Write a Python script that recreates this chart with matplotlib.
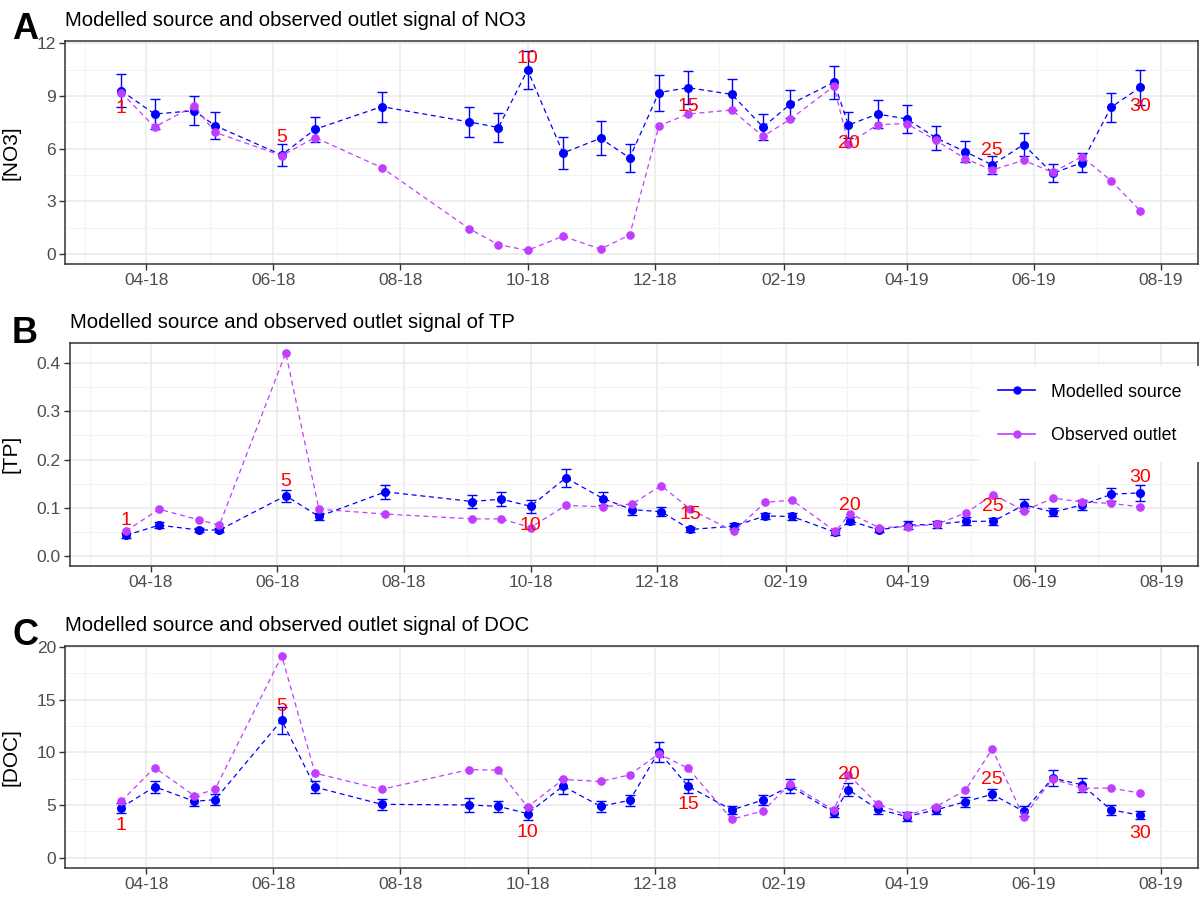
import matplotlib
matplotlib.use("Agg")
import matplotlib.pyplot as plt
import matplotlib.dates as mdates
from matplotlib.lines import Line2D
import pandas as pd
import numpy as np

plt.rcParams['font.family'] = ['Liberation Sans', 'DejaVu Sans']

# sampling campaigns 1..30
sample_dates = pd.to_datetime([
    "2018-03-20", "2018-04-05", "2018-04-24", "2018-05-04", "2018-06-05",
    "2018-06-21", "2018-07-23", "2018-09-03", "2018-09-17", "2018-10-01",
    "2018-10-18", "2018-11-05", "2018-11-19", "2018-12-03", "2018-12-17",
    "2019-01-07", "2019-01-22", "2019-02-04", "2019-02-25", "2019-03-04",
    "2019-03-18", "2019-04-01", "2019-04-15", "2019-04-29", "2019-05-12",
    "2019-05-27", "2019-06-10", "2019-06-24", "2019-07-08", "2019-07-22"])
sample_no = list(range(1, 31))
labelled = [1, 5, 10, 15, 20, 25, 30]

no3_model = [9.30, 7.97, 8.16, 7.31, 5.64, 7.10, 8.39, 7.52, 7.20, 10.48,
             5.75, 6.59, 5.47, 9.19, 9.47, 9.09, 7.23, 8.52, 9.78, 7.35,
             7.97, 7.69, 6.61, 5.83, 5.07, 6.23, 4.59, 5.20, 8.35, 9.49]
no3_err = [0.93, 0.83, 0.84, 0.76, 0.62, 0.71, 0.85, 0.85, 0.82, 1.07,
           0.89, 0.98, 0.79, 1.02, 0.94, 0.90, 0.72, 0.79, 0.94, 0.76,
           0.80, 0.78, 0.67, 0.62, 0.53, 0.66, 0.51, 0.54, 0.81, 0.98]
no3_obs = [9.19, 7.23, 8.43, 6.93, 5.60, 6.63, 4.92, 1.44, 0.53, 0.21,
           1.01, 0.28, 1.08, 7.29, 7.97, 8.20, 6.70, 7.67, 9.55, 6.27,
           7.37, 7.42, 6.47, 5.43, 4.78, 5.34, 4.65, 5.54, 4.18, 2.47]

tp_model = [0.043, 0.064, 0.054, 0.054, 0.125, 0.082, 0.133, 0.113, 0.118, 0.103,
            0.162, 0.119, 0.096, 0.092, 0.055, 0.062, 0.083, 0.082, 0.049, 0.073,
            0.054, 0.064, 0.066, 0.072, 0.072, 0.106, 0.091, 0.106, 0.128, 0.131]
tp_err = [0.005, 0.006, 0.005, 0.005, 0.012, 0.007, 0.015, 0.013, 0.014, 0.014,
          0.019, 0.014, 0.011, 0.009, 0.005, 0.007, 0.007, 0.007, 0.005, 0.007,
          0.005, 0.009, 0.007, 0.008, 0.007, 0.013, 0.008, 0.010, 0.014, 0.016]
tp_obs = [0.052, 0.097, 0.075, 0.064, 0.421, 0.097, 0.087, 0.077, 0.077, 0.059,
          0.105, 0.102, 0.108, 0.146, 0.097, 0.051, 0.111, 0.116, 0.051, 0.088,
          0.059, 0.061, 0.066, 0.090, 0.127, 0.094, 0.120, 0.112, 0.109, 0.102]

doc_model = [4.75, 6.73, 5.35, 5.50, 13.05, 6.70, 5.06, 5.00, 4.87, 4.18,
             6.79, 4.87, 5.44, 10.06, 6.79, 4.53, 5.47, 6.79, 4.28, 6.45,
             4.59, 3.90, 4.53, 5.31, 6.01, 4.40, 7.55, 6.92, 4.53, 4.03]
doc_err = [0.47, 0.58, 0.49, 0.52, 1.30, 0.61, 0.53, 0.63, 0.50, 0.60,
           0.72, 0.55, 0.55, 0.94, 0.63, 0.39, 0.49, 0.64, 0.39, 0.61,
           0.42, 0.41, 0.39, 0.49, 0.53, 0.46, 0.74, 0.68, 0.44, 0.41]
doc_obs = [5.35, 8.55, 5.88, 6.48, 19.15, 8.02, 6.48, 8.36, 8.30, 4.81,
           7.42, 7.23, 7.86, 9.87, 8.49, 3.65, 4.43, 7.01, 4.50, 7.89,
           5.06, 4.03, 4.84, 6.38, 10.31, 3.87, 7.48, 6.60, 6.60, 6.13]

MOD_COL = "#0000FF"
OBS_COL = "#BF3EFF"
W, H = 1199, 897

panels = [
    dict(letter="A", name="NO3", model=no3_model, err=no3_err, obs=no3_obs,
         box=(65, 41.5, 1197.5, 264), ylim=(-0.57, 12.1), yticks=[0, 3, 6, 9, 12],
         fmt="{:.0f}", nudge=[-1.0, 1.0, 0.65, -1.05, -1.05, 0.85, -1.1],
         title_y=26, letter_y=39),
    dict(letter="B", name="TP", model=tp_model, err=tp_err, obs=tp_obs,
         box=(70, 342.7, 1197.5, 565.7), ylim=(-0.020, 0.442),
         yticks=[0.0, 0.1, 0.2, 0.3, 0.4],
         fmt="{:.1f}", nudge=[0.03, 0.03, -0.04, 0.032, 0.031, 0.031, 0.032],
         title_y=328, letter_y=343),
    dict(letter="C", name="DOC", model=doc_model, err=doc_err, obs=doc_obs,
         box=(65, 646, 1197.5, 867.7), ylim=(-0.96, 20.1), yticks=[0, 5, 10, 15, 20],
         fmt="{:.0f}", nudge=[-1.7, 1.35, -1.8, -1.7, 1.45, 1.4, -1.7],
         title_y=631, letter_y=645),
]

x_lo = pd.Timestamp("2018-04-01") - pd.Timedelta(days=39)
x_hi = pd.Timestamp("2018-04-01") + pd.Timedelta(days=504.5)
major = pd.date_range("2018-04-01", "2019-08-01", freq="2MS")
major_num = mdates.date2num(major)
minor_num = np.concatenate([[major_num[0] - 29.5], (major_num[:-1] + major_num[1:]) / 2])

fig = plt.figure(figsize=(W / 100, H / 100), dpi=100)

for p in panels:
    l, t, r, b = p["box"]
    ax = fig.add_axes([l / W, 1 - b / H, (r - l) / W, (b - t) / H])
    ax.set_facecolor("white")

    ax.errorbar(sample_dates, p["model"], yerr=p["err"], color=MOD_COL, ecolor=MOD_COL,
                fmt="o", ms=5.5, elinewidth=1.0, capsize=3.8, capthick=1.0, zorder=3)
    ax.plot(sample_dates, p["model"], color=MOD_COL, lw=0.9, dashes=(4, 3), zorder=3)
    ax.plot(sample_dates, p["obs"], color=OBS_COL, lw=0.9, dashes=(4, 3),
            marker="o", ms=5.2, zorder=4)

    for k, n in enumerate(labelled):
        i = sample_no.index(n)
        ax.text(sample_dates[i], p["model"][i] + p["nudge"][k], str(n), color="red",
                fontsize=14, ha="center", va="center", zorder=5)

    ax.set_xlim(x_lo, x_hi)
    ax.set_ylim(*p["ylim"])
    ax.set_xticks(major)
    ax.set_xticks(minor_num, minor=True)
    ax.xaxis.set_major_formatter(mdates.DateFormatter("%m-%y"))
    ax.set_yticks(p["yticks"])
    ax.set_yticklabels([p["fmt"].format(v) for v in p["yticks"]])
    yt = p["yticks"]
    ax.set_yticks([(yt[j] + yt[j + 1]) / 2 for j in range(len(yt) - 1)], minor=True)

    ax.grid(True, which="major", color="#EBEBEB", lw=1.2, zorder=0)
    ax.grid(True, which="minor", color="#F3F3F3", lw=0.7, zorder=0)
    ax.set_axisbelow(True)
    ax.tick_params(which="major", direction="out", length=4, width=1.0, color="#333333",
                   labelcolor="#4D4D4D", labelsize=12.5, pad=2.5)
    ax.tick_params(which="minor", length=0)
    for s in ax.spines.values():
        s.set_color("#333333")
        s.set_linewidth(1.1)

    ax.set_ylabel("[" + p["name"] + "]", fontsize=15, color="black")
    ax.yaxis.set_label_coords((21 - l) / (r - l), 0.5)

    fig.text(l / W, 1 - p["title_y"] / H,
             "Modelled source and observed outlet signal of " + p["name"],
             fontsize=14.6, va="baseline", ha="left")
    fig.text(12 / W, 1 - p["letter_y"] / H, p["letter"], fontsize=26,
             fontweight="bold", va="baseline", ha="left")

    if p["letter"] == "B":
        handles = [Line2D([], [], color=MOD_COL, marker="o", ms=5, lw=1.2),
                   Line2D([], [], color=OBS_COL, marker="o", ms=5, lw=1.2)]
        leg = ax.legend(handles, ["Modelled source", "Observed outlet"],
                        loc="center", bbox_to_anchor=(1090 / W, 1 - 414 / H),
                        bbox_transform=fig.transFigure, fontsize=12.8,
                        handlelength=2.1, handletextpad=0.9, labelspacing=1.5,
                        borderpad=1.0, frameon=True, fancybox=False)
        leg.get_frame().set_facecolor("white")
        leg.get_frame().set_edgecolor("none")
        leg.get_frame().set_alpha(1)

fig.savefig("out.png", dpi=100, facecolor="white")
